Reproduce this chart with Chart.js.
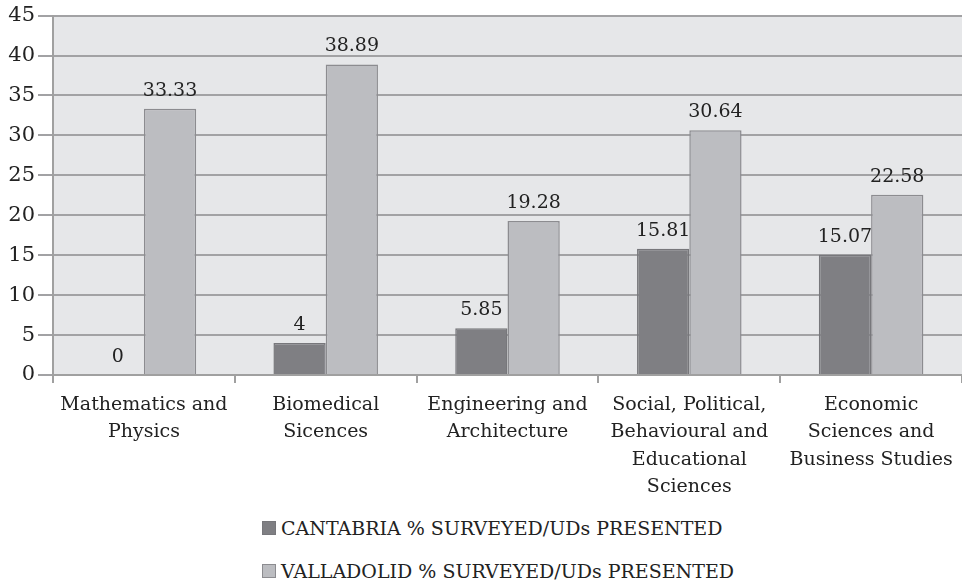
<!DOCTYPE html>
<html>
<head>
<meta charset="utf-8">
<script src="https://cdn.jsdelivr.net/npm/chart.js@4"></script>
<style>
  html, body { margin: 0; padding: 0; background: #fff; overflow: hidden; }
  #wrap { position: relative; width: 962px; height: 500px; }
  #legend { position: absolute; left: 262px; top: 506px; font-family: "DejaVu Serif", serif; font-size: 19px; color: #222; }
  .item { display: flex; align-items: center; height: 43px; }
  .box { width: 14px; height: 14px; margin-right: 5px; box-sizing: border-box; }
</style>
</head>
<body>
<div id="wrap"><canvas id="c"></canvas></div>
<div id="legend"></div>
<script>
const categories = [
  ["Mathematics and", "Physics"],
  ["Biomedical", "Sicences"],
  ["Engineering and", "Architecture"],
  ["Social, Political,", "Behavioural and", "Educational", "Sciences"],
  ["Economic", "Sciences and", "Business Studies"]
];
const cantabria = [0, 4, 5.85, 15.81, 15.07];
const valladolid = [33.33, 38.89, 19.28, 30.64, 22.58];
const seriesNames = ["CANTABRIA % SURVEYED/UDs PRESENTED", "VALLADOLID % SURVEYED/UDs PRESENTED"];
const yTicks = [0, 5, 10, 15, 20, 25, 30, 35, 40, 45];

const FONT = "DejaVu Serif";
const colors = ["#7f7f83", "#bcbdc1"];
const borders = ["#77777b", "#8c8c90"];

const bgPlugin = {
  id: 'plotBg',
  beforeDraw(chart) {
    const a = chart.chartArea, ctx = chart.ctx;
    ctx.save();
    ctx.fillStyle = '#e6e7e9';
    ctx.fillRect(a.left, a.top, a.right - a.left, a.bottom - a.top);
    ctx.restore();
  }
};
const labelPlugin = {
  id: 'valLabels',
  afterDatasetsDraw(chart) {
    const ctx = chart.ctx;
    ctx.save();
    ctx.font = `19px "${FONT}"`;
    ctx.fillStyle = '#222';
    ctx.textAlign = 'center';
    ctx.textBaseline = 'alphabetic';
    chart.data.datasets.forEach((ds, i) => {
      const meta = chart.getDatasetMeta(i);
      meta.data.forEach((el, j) => {
        ctx.fillText(String(ds.data[j]), el.x, el.y - 13);
      });
    });
    ctx.restore();
  }
};

new Chart(document.getElementById('c'), {
  type: 'bar',
  data: {
    labels: categories,
    datasets: [
      { label: seriesNames[0], data: cantabria, backgroundColor: colors[0], borderColor: borders[0], borderWidth: 1.5 },
      { label: seriesNames[1], data: valladolid, backgroundColor: colors[1], borderColor: borders[1], borderWidth: 1.5 }
    ]
  },
  options: {
    responsive: true,
    maintainAspectRatio: false,
    animation: false,
    layout: { padding: { top: 12, right: 0, left: 0, bottom: 0 } },
    plugins: { legend: { display: false }, tooltip: { enabled: false } },
    datasets: { bar: { categoryPercentage: 0.575, barPercentage: 1 } },
    scales: {
      x: {
        grid: { offset: true, drawOnChartArea: false, color: '#a0a0a0', lineWidth: 2, tickLength: 8 },
        border: { color: '#a0a0a0', width: 2 },
        ticks: { font: { family: FONT, size: 19, lineHeight: 1.45 }, color: '#222', maxRotation: 0, autoSkip: false, padding: 8 },
        afterFit(s) { s.height = 125; }
      },
      y: {
        min: 0, max: 45,
        afterBuildTicks(s) { s.ticks = yTicks.map(v => ({ value: v })); },
        grid: { color: '#a2a2a4', lineWidth: 2, tickLength: 15 },
        border: { color: '#a0a0a0', width: 2 },
        ticks: { font: { family: FONT, size: 21 }, color: '#222', padding: 3 },
        afterFit(s) { s.width = 53; }
      }
    }
  },
  plugins: [bgPlugin, labelPlugin]
});

const lg = document.getElementById('legend');
seriesNames.forEach((n, i) => {
  const d = document.createElement('div');
  d.className = 'item';
  d.innerHTML = `<span class="box" style="background:${colors[i]};border:1px solid ${borders[i]}"></span><span>${n}</span>`;
  lg.appendChild(d);
});
</script>
</body>
</html>
